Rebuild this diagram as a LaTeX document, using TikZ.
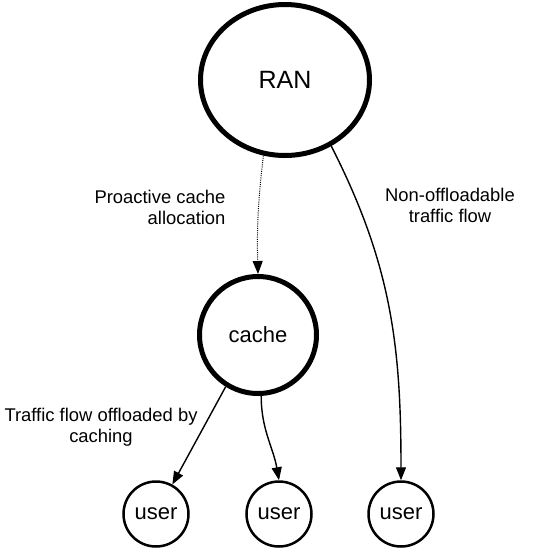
\documentclass[tikz,border=0pt]{standalone}
\usepackage{fontspec}
\setmainfont{Liberation Sans}
\usetikzlibrary{arrows.meta,shapes.geometric}

\begin{document}
\begin{tikzpicture}[x=1pt, y=-1pt,
    >={Triangle[length=13pt,width=10pt]},
    rannode/.style={draw, ellipse, line width=5pt, minimum width=169pt, minimum height=151pt, font=\fontsize{25}{30}\selectfont},
    cachenode/.style={draw, circle, line width=5pt, minimum size=117pt, font=\fontsize{22}{26}\selectfont},
    usernode/.style={draw, circle, line width=2.5pt, minimum size=65pt, inner sep=0pt, font=\fontsize{22}{26}\selectfont},
    flow/.style={->, line width=1.4pt},
    lbl/.style={font=\fontsize{18.4}{21}\selectfont}]
    \useasboundingbox (0,0) rectangle (533,558);

    % Nodes
    \node[rannode] (ran) at (285,80) {RAN};
    \node[cachenode] (cache) at (258,335) {cache};
    \node[usernode] (user1) at (156,514) {user};
    \node[usernode] (user2) at (279,514) {user};
    \node[usernode] (user3) at (401,514) {user};

    % Flows
    \draw[flow, line width=1pt, dash pattern=on 1pt off 1.2pt] (ran.254) to[bend right=4] (cache.north);
    \draw[flow] (ran.305) to[out=-63, in=90] (user3.north);
    \draw[flow] (cache.238) -- (user1.61);
    \draw[flow] (cache.-87) to[out=-90, in=100] (user2.north);

    % Labels
    \node[lbl, align=right, anchor=east] (lblalloc) at (229,207) {Proactive cache\\allocation};
    \node[lbl, align=center] (lblnonoff) at (450,205) {Non-offloadable\\traffic flow};
    \node[lbl, align=center] (lblcaching) at (101,427) {Traffic flow offloaded by\\caching};
\end{tikzpicture}
\end{document}
